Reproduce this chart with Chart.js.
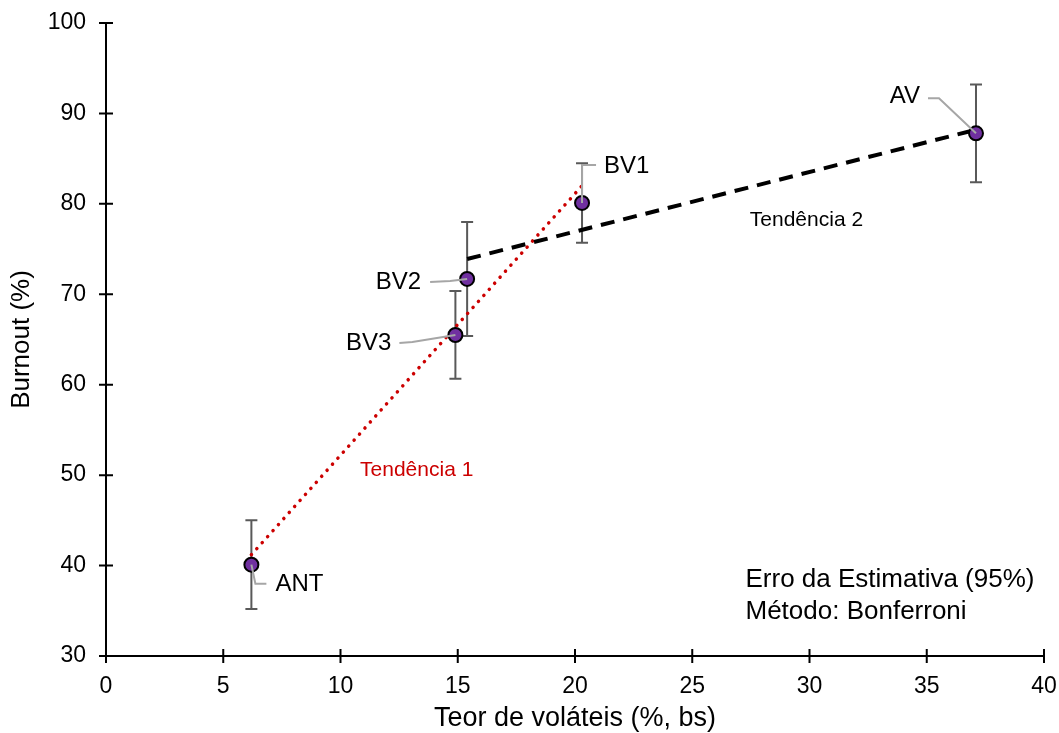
<!DOCTYPE html>
<html>
<head>
<meta charset="utf-8">
<script src="https://cdn.jsdelivr.net/npm/chart.js@4/dist/chart.umd.min.js"></script>
<style>
  html, body { margin: 0; padding: 0; background: #fff; }
  #wrap { width: 1059px; height: 733px; }
</style>
</head>
<body>
<div id="wrap"><canvas id="chart" width="1059" height="733"></canvas></div>
<script>
// samples
const sampleNames = ['ANT', 'BV3', 'BV2', 'BV1', 'AV'];
const volatiles = [6.2, 14.9, 15.4, 20.3, 37.1];
const burnout = [40.1, 65.5, 71.7, 80.1, 87.8];
const errorHalf = [4.9, 4.85, 6.3, 4.4, 5.4];

// trend lines
const trend1X = [6.2, 20.3];
const trend1Y = [41.2, 82.0];
const trend2X = [15.4, 37.1];
const trend2Y = [73.9, 88.2];

// ticks
const xTicks = [0, 5, 10, 15, 20, 25, 30, 35, 40];
const yTicks = [30, 40, 50, 60, 70, 80, 90, 100];

const FONT = '"Liberation Sans", Arial, sans-serif';

// leader line paths (pixel offsets from point) and label anchor
const leaders = {
    ANT: { path: [[0, 0], [4, 19], [15, 19]], text: [24, 20], align: 'left' },
    BV3: { path: [[0, 0], [-43, 7], [-56, 8]], text: [-64, 8], align: 'right' },
    BV2: { path: [[0, 0], [-17, 2], [-37, 3]], text: [-46, 3], align: 'right' },
    BV1: { path: [[0, 0], [0, -38], [14, -38]], text: [22, -37], align: 'left' },
    AV:  { path: [[0, 0], [-37, -35], [-48, -35]], text: [-56, -37], align: 'right' }
};

const notes = [
    { text: 'Tendência 2', x: 29.87, y: 78.2, size: 21, color: '#000', align: 'center' },
    { text: 'Tendência 1', x: 13.25, y: 50.5, size: 21, color: '#cc0000', align: 'center' },
    { text: 'Erro da Estimativa (95%)', x: 27.27, y: 38.4, size: 26, color: '#000', align: 'left' },
    { text: 'Método: Bonferroni', x: 27.27, y: 34.9, size: 26, color: '#000', align: 'left' }
];

const extras = {
    id: 'extras',
    beforeDatasetsDraw(chart) {
        const { ctx } = chart;
        const xs = chart.scales.x, ys = chart.scales.y;
        ctx.save();
        // error bars
        ctx.strokeStyle = '#595959';
        ctx.lineWidth = 2;
        volatiles.forEach((v, i) => {
            const px = xs.getPixelForValue(v);
            const top = ys.getPixelForValue(burnout[i] + errorHalf[i]);
            const bot = ys.getPixelForValue(burnout[i] - errorHalf[i]);
            ctx.beginPath();
            ctx.moveTo(px, top); ctx.lineTo(px, bot);
            ctx.moveTo(px - 6, top); ctx.lineTo(px + 6, top);
            ctx.moveTo(px - 6, bot); ctx.lineTo(px + 6, bot);
            ctx.stroke();
        });
        ctx.restore();
    },
    afterDatasetsDraw(chart) {
        const { ctx } = chart;
        const xs = chart.scales.x, ys = chart.scales.y;
        ctx.save();
        // leader lines + labels
        sampleNames.forEach((name, i) => {
            const px = xs.getPixelForValue(volatiles[i]);
            const py = ys.getPixelForValue(burnout[i]);
            const l = leaders[name];
            ctx.strokeStyle = '#a6a6a6';
            ctx.lineWidth = 2;
            ctx.beginPath();
            l.path.forEach((p, k) => {
                if (k === 0) ctx.moveTo(px + p[0], py + p[1]);
                else ctx.lineTo(px + p[0], py + p[1]);
            });
            ctx.stroke();
            ctx.fillStyle = '#000';
            ctx.font = '24px ' + FONT;
            ctx.textAlign = l.align;
            ctx.textBaseline = 'middle';
            ctx.fillText(name, px + l.text[0], py + l.text[1]);
        });
        // notes
        notes.forEach(n => {
            ctx.fillStyle = n.color;
            ctx.font = n.size + 'px ' + FONT;
            ctx.textAlign = n.align;
            ctx.textBaseline = 'middle';
            ctx.fillText(n.text, xs.getPixelForValue(n.x), ys.getPixelForValue(n.y));
        });
        // tick marks crossing the axes
        ctx.strokeStyle = '#000';
        ctx.lineWidth = 2;
        const x0 = xs.left, y0 = ys.bottom;
        ctx.beginPath();
        xTicks.forEach(t => {
            const px = xs.getPixelForValue(t);
            ctx.moveTo(px, y0 - 7); ctx.lineTo(px, y0 + 7);
        });
        yTicks.forEach(t => {
            const py = ys.getPixelForValue(t);
            ctx.moveTo(x0 - 7, py); ctx.lineTo(x0 + 7, py);
        });
        ctx.stroke();
        ctx.restore();
    }
};

function noPad(s) {
    s.paddingTop = 0; s.paddingBottom = 0;
    s.paddingLeft = 0; s.paddingRight = 0;
}

new Chart(document.getElementById('chart'), {
    type: 'scatter',
    data: {
        datasets: [
            {
                label: 'Amostras',
                data: volatiles.map((v, i) => ({ x: v, y: burnout[i] })),
                backgroundColor: '#7030a0',
                borderColor: '#000',
                borderWidth: 2,
                pointRadius: 7,
                order: 0
            },
            {
                label: 'Tendência 1',
                data: trend1X.map((v, i) => ({ x: v, y: trend1Y[i] })),
                showLine: true,
                borderColor: '#cc0000',
                borderWidth: 3.5,
                borderDash: [0.1, 8],
                borderCapStyle: 'round',
                pointRadius: 0,
                order: 2
            },
            {
                label: 'Tendência 2',
                data: trend2X.map((v, i) => ({ x: v, y: trend2Y[i] })),
                showLine: true,
                borderColor: '#000',
                borderWidth: 4,
                borderDash: [14, 9],
                pointRadius: 0,
                order: 1
            }
        ]
    },
    options: {
        responsive: false,
        animation: false,
        layout: { padding: { top: 23, right: 15, left: 0, bottom: 0 } },
        plugins: {
            legend: { display: false },
            tooltip: { enabled: false }
        },
        scales: {
            x: {
                type: 'linear',
                min: 0, max: 40,
                afterBuildTicks: s => { s.ticks = xTicks.map(v => ({ value: v })); },
                afterFit: s => { s.height = 77; noPad(s); },
                grid: { display: false },
                border: { display: true, color: '#000', width: 2 },
                ticks: { color: '#000', font: { family: FONT, size: 23 }, padding: 9, maxRotation: 0 },
                title: { display: true, text: 'Teor de voláteis (%, bs)', color: '#000', font: { family: FONT, size: 27 }, padding: { top: 0, bottom: -2 } }
            },
            y: {
                type: 'linear',
                min: 30, max: 100,
                afterBuildTicks: s => { s.ticks = yTicks.map(v => ({ value: v })); },
                afterFit: s => { s.width = 106; noPad(s); },
                grid: { display: false },
                border: { display: true, color: '#000', width: 2 },
                ticks: { color: '#000', font: { family: FONT, size: 23 }, padding: 12 },
                title: { display: true, text: 'Burnout (%)', color: '#000', font: { family: FONT, size: 26 }, padding: { top: 6, bottom: 0 } }
            }
        }
    },
    plugins: [extras]
});
</script>
</body>
</html>
